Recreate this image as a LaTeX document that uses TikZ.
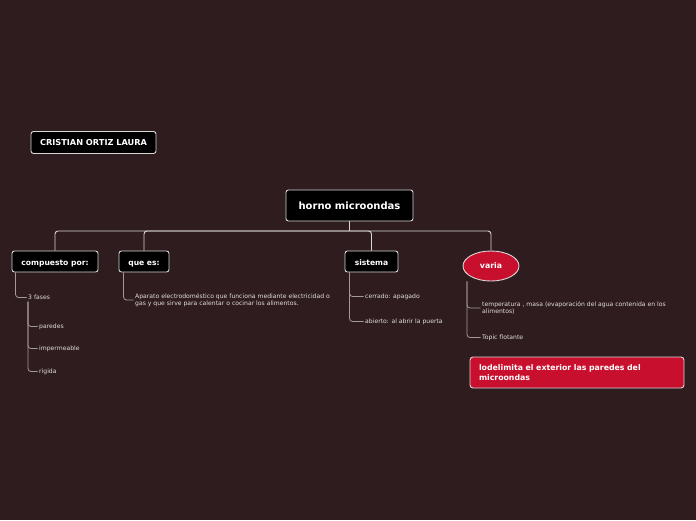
\documentclass[tikz,border=0pt]{standalone}
\usepackage{fontspec}
\setmainfont{DejaVu Sans}
\usetikzlibrary{shapes.geometric}
\definecolor{bgbrown}{HTML}{2E1C1E}
\definecolor{topicred}{HTML}{C8102E}
\definecolor{boxline}{HTML}{D9D6D6}
\definecolor{linegray}{HTML}{A49A9A}
\definecolor{textgray}{HTML}{E4DEDE}

\begin{document}
\begin{tikzpicture}[x=1pt, y=-1pt,
    topic/.style={draw=boxline, fill=black, rounded corners=2.5pt, line width=0.9pt, text=white,
      font=\bfseries\fontsize{7.6}{9}\selectfont, inner sep=0pt, minimum height=21pt,
      text height=7pt, text depth=0pt},
    redtopic/.style={draw=boxline, fill=topicred, line width=0.9pt, text=white, inner sep=0pt,
      font=\bfseries\fontsize{7.8}{10}\selectfont},
    leaf/.style={anchor=west, inner sep=1.5pt, text=textgray, align=left,
      font=\fontsize{6.1}{7}\selectfont},
    bus/.style={draw=boxline, line width=0.9pt},
    leafline/.style={draw=linegray, line width=0.8pt, rounded corners=3pt}]
  \fill[bgbrown] (0,0) rectangle (696,520);
  \useasboundingbox (0,0) rectangle (696,520);

  % main topics
  \node[topic, minimum width=125pt, minimum height=22pt, text height=6pt, font=\bfseries\fontsize{8.2}{9}\selectfont] (author) at (93.5,142.5) {CRISTIAN ORTIZ LAURA};
  \node[topic, minimum width=127pt, minimum height=31pt, text height=7.6pt, font=\bfseries\fontsize{10}{12}\selectfont] (root) at (349.5,205.5) {horno microondas};
  \node[topic, minimum width=86pt] (comp) at (55,261.5) {compuesto por:};
  \node[topic, minimum width=50pt] (quees) at (144,261.5) {que es:};
  \node[topic, minimum width=53pt] (sist) at (371.5,261.5) {sistema};
  \node[redtopic, ellipse, minimum width=56pt, minimum height=30pt] (varia) at (491,266) {varia};
  \node[redtopic, rounded corners=3pt, minimum width=214pt, minimum height=31pt, text width=196pt, align=left] (lodel) at (577,372.5)
    {lodelimita el exterior las paredes del\\microondas};

  % leaves
  \node[leaf] (fases) at (26.5,297.5) {3 fases};
  \node[leaf] (paredes) at (37.5,326.5) {paredes};
  \node[leaf] (imperm) at (37.5,348.5) {impermeable};
  \node[leaf] (rigida) at (37.5,371.5) {rigida};
  \node[leaf] (aparato) at (133.5,300) {Aparato electrodoméstico que funciona mediante electricidad o\\gas y que sirve para calentar o cocinar los alimentos.};
  \node[leaf] (cerrado) at (363.5,296.5) {cerrado: apagado};
  \node[leaf] (abierto) at (363.5,321.5) {abierto: al abrir la puerta};
  \node[leaf] (temp) at (480.5,308) {temperatura , masa (evaporación del agua contenida en los\\alimentos)};
  \node[leaf] (flot) at (480.5,337.5) {Topic flotante};

  % connectors
  \coordinate (hub) at (349.5,231);
  \draw[bus] (root.south) -- (hub);
  \foreach \t in {comp,quees,sist,varia}
    \draw[bus, rounded corners=3pt] (hub) -| (\t.north);

  \draw[leafline] ([xshift=4pt]comp.south west) |- (fases.west);
  \foreach \t in {paredes,imperm,rigida}
    \draw[leafline] ([xshift=1.5pt]fases.south west) |- (\t.west);
  \draw[leafline] ([xshift=5pt]quees.south west) |- (aparato.west);
  \foreach \t in {cerrado,abierto}
    \draw[leafline] ([xshift=5pt]sist.south west) |- (\t.west);
  \foreach \t in {temp,flot}
    \draw[leafline] ([xshift=-24pt]varia.south) |- (\t.west);
\end{tikzpicture}
\end{document}
